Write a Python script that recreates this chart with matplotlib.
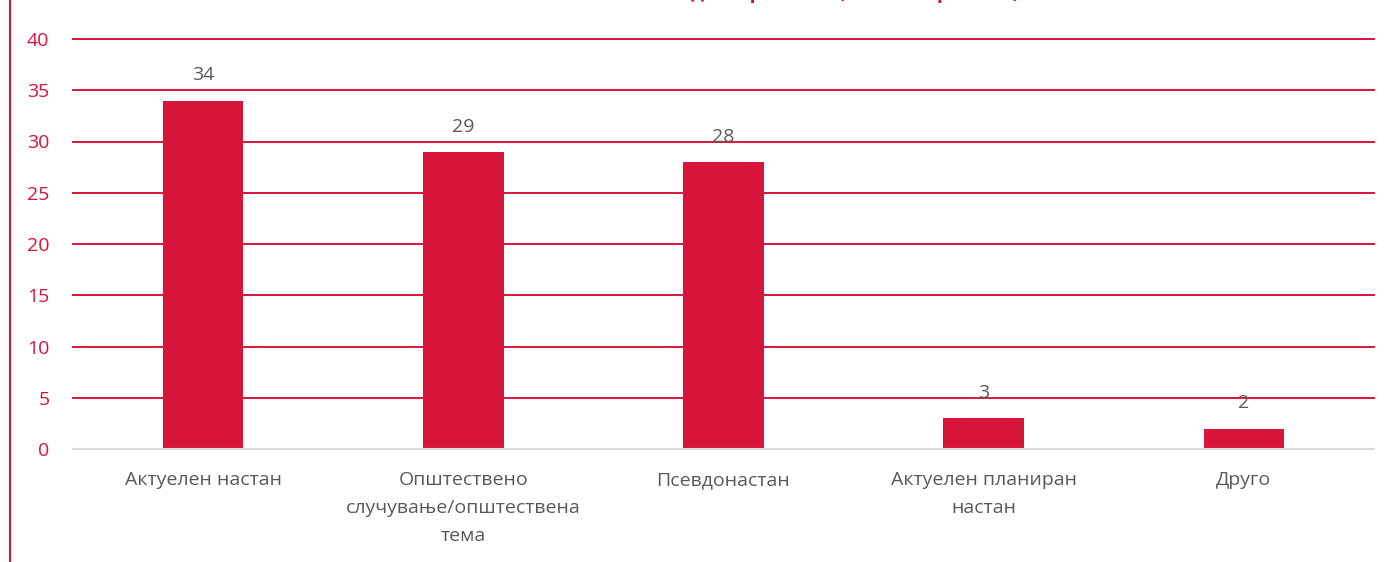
import matplotlib.pyplot as plt
import numpy as np

# data
categories = ['Актуелен настан', 'Општествено\nслучување/општествена\nтема',
              'Псевдонастан', 'Актуелен планиран\nнастан', 'Друго']
values = [34, 29, 28, 3, 2]
yticks = [0, 5, 10, 15, 20, 25, 30, 35, 40]
title = 'Повод за прилогот (за сите прилози)'

RED = '#D7153A'
GRAY = '#595959'

plt.rcParams['font.family'] = ['Open Sans', 'DejaVu Sans']

fig = plt.figure(figsize=(13.94, 5.62), dpi=100)
ax = fig.add_axes([73 / 1394, 1 - 449 / 562, 1301 / 1394, 410 / 562])

x = np.arange(len(categories))
ax.bar(x, values, width=0.31, color=RED, zorder=3)
for xi, v in zip(x, values):
    ax.annotate(str(v), (xi, v), xytext=(0, 18), textcoords='offset points',
                ha='center', va='center', fontsize=14, color=GRAY)

ax.set_xlim(-0.5, len(categories) - 0.5)
ax.set_ylim(0, 40)
ax.set_yticks(yticks)
ax.yaxis.grid(True, color=RED, lw=1.4, zorder=0)
for gl in ax.get_ygridlines():
    gl.set_clip_on(False)
ax.set_axisbelow(True)
ax.set_xticks(x)
ax.set_xticklabels(categories, fontsize=14, color=GRAY, linespacing=1.7)
ax.tick_params(axis='y', colors=RED, labelsize=14, length=0, pad=17)
ax.tick_params(axis='x', length=0, pad=16)
for s in ['top', 'right', 'left']:
    ax.spines[s].set_visible(False)
ax.spines['bottom'].set_color('#D9D9D9')
ax.spines['bottom'].set_linewidth(1.5)
ax.spines['bottom'].set_zorder(4)

# title sits mostly above the canvas, only descenders show
fig.text(830 / 1394, 1 + 2 / 562, title, ha='center', va='baseline',
         fontsize=14, fontweight='bold', color=RED)

# left border line
fig.add_artist(plt.Line2D([9.5 / 1394, 9.5 / 1394], [0, 1], color=RED, lw=1.5,
                          transform=fig.transFigure))

fig.savefig('out.png', dpi=100)
